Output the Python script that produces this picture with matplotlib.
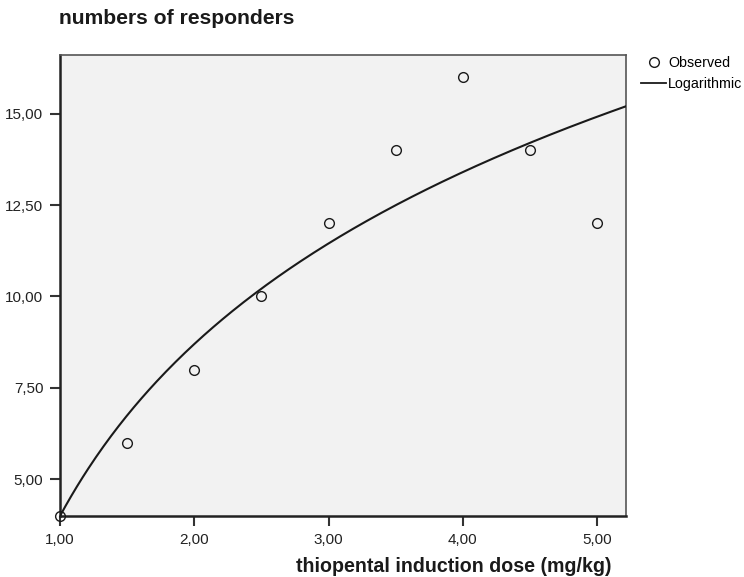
import numpy as np
import matplotlib
matplotlib.use("Agg")
import matplotlib.pyplot as plt
from matplotlib.lines import Line2D

# Data
dose = [1.0, 1.5, 2.0, 2.5, 3.0, 3.5, 4.0, 4.5, 5.0]
responders = [4, 6, 8, 10, 12, 14, 16, 14, 12]
# Logarithmic fit y = a + b*ln(x) (coefficients)
fit_a = 4.0
fit_b = 6.78
x_ticks = [1, 2, 3, 4, 5]
x_tick_labels = ["1,00", "2,00", "3,00", "4,00", "5,00"]
y_ticks = [5, 7.5, 10, 12.5, 15]
y_tick_labels = ["5,00", "7,50", "10,00", "12,50", "15,00"]

plt.rcParams['font.family'] = ['Liberation Sans', 'DejaVu Sans']

fig = plt.figure(figsize=(7.44, 5.77), dpi=100)
W, H = 744, 577
left, right, top, bottom = 60, 626, 55, 516
ax = fig.add_axes([left / W, 1 - bottom / H, (right - left) / W, (bottom - top) / H])
ax.set_facecolor("#f2f2f2")

xmin, xmax = 1.0, 5.216
ymin, ymax = 4.0, 16.6
xs = np.linspace(xmin, xmax, 300)
ax.plot(xs, fit_a + fit_b * np.log(xs), color="#1a1a1a", lw=1.5, zorder=3, clip_on=True)
ax.plot(dose, responders, linestyle="none", marker="o", markersize=7,
        markerfacecolor="none", markeredgecolor="#1a1a1a", markeredgewidth=1.0,
        zorder=4, clip_on=False)

ax.set_xlim(xmin, xmax)
ax.set_ylim(ymin, ymax)
ax.set_xticks(x_ticks)
ax.set_xticklabels(x_tick_labels)
ax.set_yticks(y_ticks)
ax.set_yticklabels(y_tick_labels)
ax.tick_params(direction="out", length=7, width=1.5, color="#333333",
               labelsize=11, labelcolor="#222222")
ax.tick_params(axis="x", pad=5)
ax.tick_params(axis="y", pad=5)
for side in ["top", "right"]:
    ax.spines[side].set_linewidth(1.2)
    ax.spines[side].set_color("#555555")
for side in ["left", "bottom"]:
    ax.spines[side].set_linewidth(1.8)
    ax.spines[side].set_color("#222222")

fig.text(59 / W, 1 - 19 / H, "numbers of responders", fontsize=15.2,
         fontweight="bold", ha="left", va="center", color="#1a1a1a")
fig.text(611 / W, 1 - 566 / H, "thiopental induction dose (mg/kg)", fontsize=14.1,
         fontweight="bold", ha="right", va="center", color="#1a1a1a")

# Legend
handles = [Line2D([], [], linestyle="none", marker="o", markersize=7,
                  markerfacecolor="none", markeredgecolor="#1a1a1a", markeredgewidth=1.0),
           Line2D([], [], color="#1a1a1a", lw=1.3)]
fig.legend(handles, ["Observed", "Logarithmic"], loc="upper left",
           bbox_to_anchor=(641 / W, 1 - 56 / H), frameon=False, fontsize=10.3,
           handlelength=1.75, handletextpad=0.15, labelspacing=0.5, borderpad=0,
           borderaxespad=0)

fig.savefig("out.png", dpi=100)
